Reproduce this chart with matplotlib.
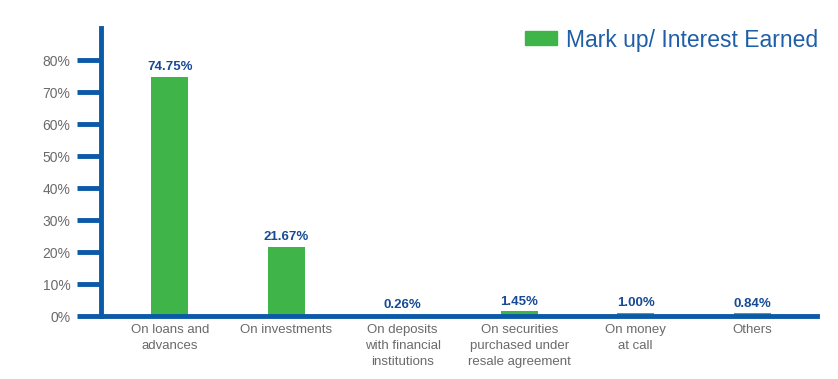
import matplotlib
matplotlib.use("Agg")
import matplotlib.pyplot as plt
from matplotlib.patches import Patch

plt.rcParams['font.family'] = ['Liberation Sans', 'DejaVu Sans']

categories = ["On loans and\nadvances", "On investments", "On deposits\nwith financial\ninstitutions",
              "On securities\npurchased under\nresale agreement", "On money\nat call", "Others"]
values = [74.75, 21.67, 0.26, 1.45, 1.00, 0.84]
value_labels = ["74.75%", "21.67%", "0.26%", "1.45%", "1.00%", "0.84%"]
yticks = [0, 10, 20, 30, 40, 50, 60, 70, 80]
series_name = "Mark up/ Interest Earned"

green = "#3fb549"
blue = "#0b5aa8"
label_blue = "#174a95"
grey = "#6a6a6a"

fig = plt.figure(figsize=(8.38, 3.79), dpi=100)
ax = fig.add_axes([0.1205, 0.166, 0.855, 0.76])

x = range(len(categories))
ax.bar(x, values, width=0.32, color=green, zorder=2)
for xi, v, lab in zip(x, values, value_labels):
    ax.text(xi, v + 1.2, lab, ha="center", va="bottom", fontsize=9.5,
            fontweight="bold", color=label_blue)

ax.set_xlim(-0.59, 5.56)
ax.set_ylim(0, 90)
ax.set_yticks(yticks)
ax.set_yticklabels([f"{t}%" for t in yticks], fontsize=10, color=grey)
ax.set_xticks(list(x))
ax.set_xticklabels(categories, fontsize=9.5, color=grey, linespacing=1.4)

for side in ("top", "right"):
    ax.spines[side].set_visible(False)
for side in ("left", "bottom"):
    ax.spines[side].set_color(blue)
    ax.spines[side].set_linewidth(3.5)
ax.tick_params(axis="y", length=17, width=3.5, color=blue, pad=5)
ax.tick_params(axis="x", length=0, pad=6)

leg = ax.legend(handles=[Patch(color=green, label=series_name)], loc="upper right",
                bbox_to_anchor=(1.03, 1.07), frameon=False, fontsize=16.5,
                handlelength=1.4, handleheight=0.55, handletextpad=0.4)
for t in leg.get_texts():
    t.set_color("#1f5fa8")

fig.savefig("out.png", dpi=100)
